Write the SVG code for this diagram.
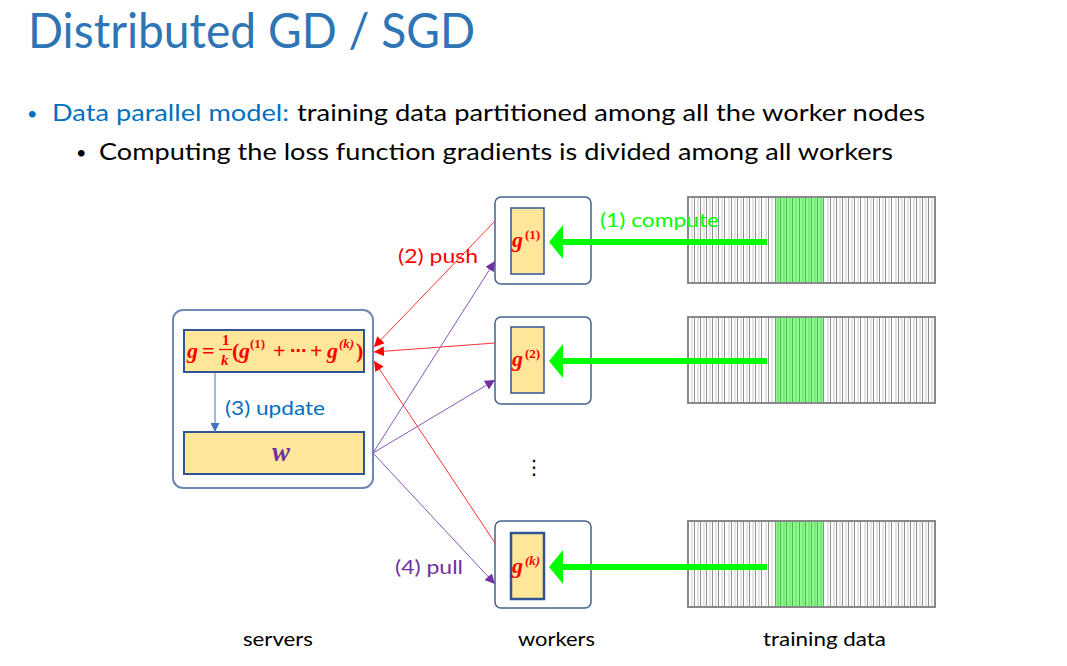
<svg xmlns="http://www.w3.org/2000/svg" width="1067" height="666" viewBox="0 0 1067 666">
  <defs>
    <style>
      .sans { font-family: Lato, "Liberation Sans", sans-serif; }
      .title { font-size: 48px; fill: #2E75B6; }
      .body { font-size: 24px; fill: #000; }
      .lbl { font-size: 20px; }
      .math { font-family: "Liberation Serif", "DejaVu Serif", serif; font-weight: bold; font-style: italic; }
      .mup { font-family: "Liberation Serif", "DejaVu Serif", serif; font-weight: bold; }
      .outer { fill: #fff; stroke: #44618f; stroke-width: 1.5; }
      .inner { fill: #FFE699; stroke: #2F5597; stroke-width: 2; }
      .push { stroke: #FF3333; stroke-width: 1; fill: none; }
      .pull { stroke: #8855BB; stroke-width: 1; fill: none; }
      .frame { fill: none; stroke: #888; stroke-width: 2; }
      .dark { stroke: #909090; stroke-width: 1; }
      .light { stroke: #d2d2d2; stroke-width: 1.2; }
      .gdark { stroke: #4FB84F; stroke-width: 1; }
      .glight { stroke: #70DC70; stroke-width: 1.2; }
    </style>
    <marker id="redHead" viewBox="0 0 10 10" refX="10" refY="5" markerWidth="10" markerHeight="10" markerUnits="userSpaceOnUse" orient="auto">
      <path d="M0,0 L10,5 L0,10 Z" fill="#FF0000"/>
    </marker>
    <marker id="purpleHead" viewBox="0 0 10 10" refX="10" refY="5" markerWidth="10" markerHeight="10" markerUnits="userSpaceOnUse" orient="auto">
      <path d="M0,0 L10,5 L0,10 Z" fill="#7030A0"/>
    </marker>
    <marker id="blueHead" viewBox="0 0 10 10" refX="10" refY="5" markerWidth="9" markerHeight="9" markerUnits="userSpaceOnUse" orient="auto">
      <path d="M0,0 L10,5 L0,10 Z" fill="#4472C4"/>
    </marker>
    <!-- one data record: 40 cells, the middle 8 form the worker's chunk -->
    <g id="record">
      <rect x="0" y="0" width="247" height="86" fill="#fff"/>
      <rect x="87" y="0" width="49" height="86" fill="#8CFC8C"/>
      <g class="light">
        <path d="M4,0V86M10,0V86M16,0V86M22,0V86M28,0V86M34,0V86M41,0V86M47,0V86M53,0V86M59,0V86M65,0V86M71,0V86M78,0V86M84,0V86"/>
        <path d="M140,0V86M146,0V86M152,0V86M158,0V86M164,0V86M170,0V86M177,0V86M183,0V86M189,0V86M195,0V86M201,0V86M208,0V86M214,0V86M220,0V86M226,0V86M232,0V86M238,0V86M244,0V86"/>
      </g>
      <g class="dark">
        <path d="M6.5,0V86M12.5,0V86M18.5,0V86M24.5,0V86M30.5,0V86M36.5,0V86M43.5,0V86M49.5,0V86M55.5,0V86M61.5,0V86M67.5,0V86M73.5,0V86M80.5,0V86"/>
        <path d="M142.5,0V86M148.5,0V86M154.5,0V86M160.5,0V86M166.5,0V86M172.5,0V86M179.5,0V86M185.5,0V86M191.5,0V86M197.5,0V86M203.5,0V86M210.5,0V86M216.5,0V86M222.5,0V86M228.5,0V86M234.5,0V86M240.5,0V86"/>
      </g>
      <g class="glight">
        <path d="M90,0V86M96,0V86M102,0V86M108,0V86M115,0V86M121,0V86M127,0V86M133,0V86"/>
      </g>
      <g class="gdark">
        <path d="M87.5,0V86M92.5,0V86M98.5,0V86M104.5,0V86M111.5,0V86M117.5,0V86M123.5,0V86M129.5,0V86M135.5,0V86"/>
      </g>
      <rect class="frame" x="0" y="0" width="247" height="86"/>
    </g>
  </defs>

  <rect width="1067" height="666" fill="#fff"/>

  <!-- heading and bullets -->
  <text class="sans title" x="28" y="48" textLength="447" lengthAdjust="spacingAndGlyphs">Distributed GD / SGD</text>
  <text class="sans" x="27" y="120" font-size="18" fill="#0070C0">•</text>
  <text class="sans body" x="52" y="121" style="fill:#0070C0" textLength="237" lengthAdjust="spacingAndGlyphs">Data parallel model:</text>
  <text class="sans body" x="297" y="121" textLength="628" lengthAdjust="spacingAndGlyphs">training data partitioned among all the worker nodes</text>
  <text class="sans" x="76" y="159" font-size="18">•</text>
  <text class="sans body" x="99" y="160" textLength="794" lengthAdjust="spacingAndGlyphs">Computing the loss function gradients is divided among all workers</text>

  <!-- training data records -->
  <g id="data1"><use href="#record" x="688" y="197"/></g>
  <g id="data2"><use href="#record" x="688" y="317"/></g>
  <g id="data3"><use href="#record" x="688" y="521"/></g>

  <!-- server -->
  <g id="server">
    <rect class="outer" x="173" y="310" width="200" height="178" rx="10" style="stroke:#6f87b3;stroke-width:2"/>
    <rect class="inner" x="184" y="330" width="180" height="42"/>
    <rect class="inner" x="184" y="432" width="180" height="42"/>
    <g fill="#FF0000">
      <text class="math" x="187" y="358" font-size="22">g</text>
      <text class="mup" x="202" y="358" font-size="22">=</text>
      <text class="mup" x="222" y="345" font-size="15">1</text>
      <line x1="219" y1="349.5" x2="232" y2="349.5" stroke="#FF0000" stroke-width="1.3"/>
      <text class="math" x="221" y="365" font-size="15">k</text>
      <text class="mup" x="232" y="358" font-size="22">(</text>
      <text class="math" x="239" y="358" font-size="22">g</text>
      <text class="mup" x="250" y="348" font-size="13">(1)</text>
      <text class="mup" x="273" y="358" font-size="22">+</text>
      <text x="290" y="356" font-size="16" font-weight="bold" font-family="DejaVu Sans, sans-serif">⋯</text>
      <text class="mup" x="310" y="358" font-size="22">+</text>
      <text class="math" x="327" y="358" font-size="22">g</text>
      <text class="math" x="339" y="348" font-size="13">(k)</text>
      <text class="mup" x="356" y="358" font-size="22">)</text>
    </g>
    <text class="math" x="281" y="461" font-size="27" text-anchor="middle" fill="#7030A0">w</text>
    <line x1="215" y1="373" x2="215" y2="432" stroke="#4472C4" stroke-width="1" marker-end="url(#blueHead)"/>
    <text class="sans lbl" x="225" y="415" fill="#0070C0" textLength="100" lengthAdjust="spacingAndGlyphs">(3) update</text>
  </g>

  <!-- workers -->
  <g id="worker1">
    <rect class="outer" x="495" y="197" width="96" height="87" rx="6"/>
    <rect class="inner" x="511" y="208" width="33" height="66" style="stroke-width:1.5"/>
    <text class="math" x="512" y="247" font-size="22" fill="#FF0000">g</text>
    <text class="mup" x="525" y="239" font-size="13" fill="#FF0000">(1)</text>
  </g>
  <g id="worker2">
    <rect class="outer" x="495" y="317" width="96" height="87" rx="6"/>
    <rect class="inner" x="511" y="327" width="33" height="66" style="stroke-width:1.5"/>
    <text class="math" x="512" y="366" font-size="22" fill="#FF0000">g</text>
    <text class="mup" x="525" y="358" font-size="13" fill="#FF0000">(2)</text>
  </g>
  <g id="workerk">
    <rect class="outer" x="495" y="521" width="96" height="87" rx="6"/>
    <rect class="inner" x="511" y="533" width="33" height="66" style="stroke-width:2.5"/>
    <text class="math" x="512" y="573" font-size="22" fill="#FF0000">g</text>
    <text class="math" x="525" y="565" font-size="13" fill="#FF0000">(k)</text>
  </g>
  <text x="534" y="474" font-size="20" text-anchor="middle" font-family="DejaVu Sans, sans-serif">⋮</text>

  <!-- connectors -->
  <g id="connectors">
    <!-- compute: data record to worker -->
    <g fill="#00FF00">
      <rect x="562" y="239" width="205" height="6"/>
      <polygon points="549,242 563,225 563,259"/>
      <rect x="562" y="358" width="205" height="6"/>
      <polygon points="549,361 563,344 563,378"/>
      <rect x="562" y="564" width="205" height="6"/>
      <polygon points="549,567 563,550 563,584"/>
    </g>
    <!-- push: workers to server -->
    <line class="push" x1="495" y1="221" x2="374" y2="347" marker-end="url(#redHead)"/>
    <line class="push" x1="495" y1="343" x2="374" y2="352" marker-end="url(#redHead)"/>
    <line class="push" x1="495" y1="543" x2="374" y2="361" marker-end="url(#redHead)"/>
    <!-- pull: server to workers -->
    <line class="pull" x1="373" y1="453" x2="495" y2="261" marker-end="url(#purpleHead)"/>
    <line class="pull" x1="373" y1="453" x2="495" y2="380" marker-end="url(#purpleHead)"/>
    <line class="pull" x1="373" y1="453" x2="495" y2="584" marker-end="url(#purpleHead)"/>
  </g>

  <!-- step labels -->
  <text class="sans lbl" x="600" y="227" fill="#00FF00" textLength="119" lengthAdjust="spacingAndGlyphs">(1) compute</text>
  <text class="sans lbl" x="398" y="263" fill="#FF0000" textLength="80" lengthAdjust="spacingAndGlyphs">(2) push</text>
  <text class="sans lbl" x="395" y="574" fill="#7030A0" textLength="68" lengthAdjust="spacingAndGlyphs">(4) pull</text>

  <!-- column captions -->
  <text class="sans lbl" x="243" y="646" textLength="70" lengthAdjust="spacingAndGlyphs">servers</text>
  <text class="sans lbl" x="518" y="646" textLength="77" lengthAdjust="spacingAndGlyphs">workers</text>
  <text class="sans lbl" x="763" y="646" textLength="123" lengthAdjust="spacingAndGlyphs">training data</text>
</svg>
